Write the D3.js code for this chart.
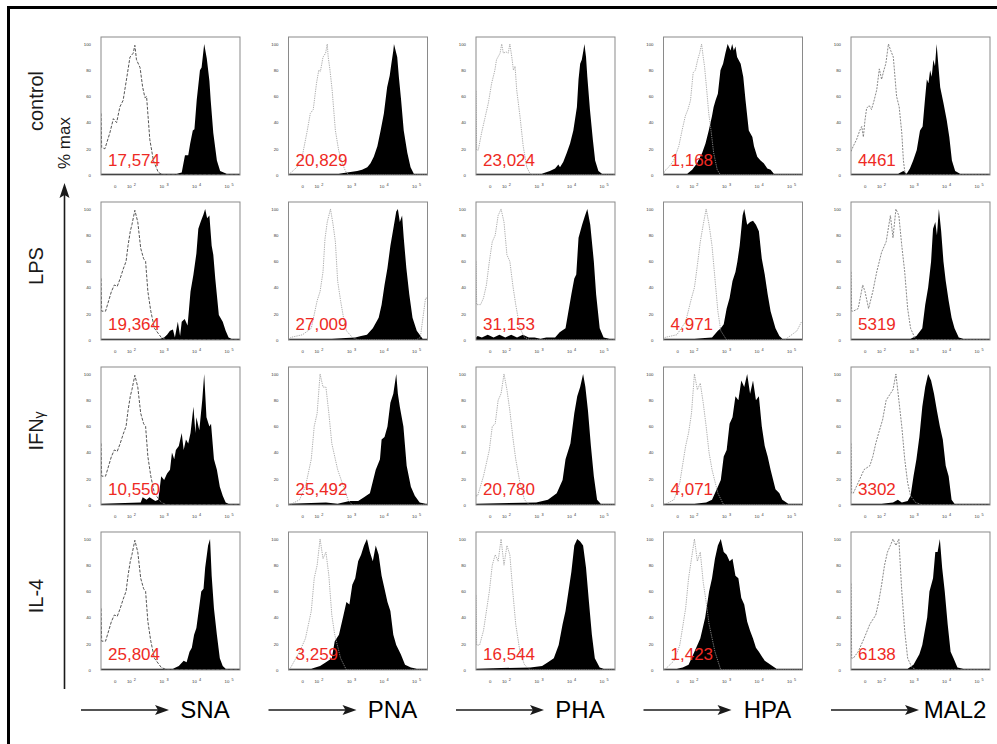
<!DOCTYPE html>
<html>
<head>
<meta charset="utf-8">
<script src="https://cdn.jsdelivr.net/npm/d3@7/dist/d3.min.js"></script>
<style>
  body { margin: 0; background: #fff; }
  svg { display: block; font-family: "Liberation Sans", Arial, Helvetica, sans-serif; }
</style>
</head>
<body>
<div id="chart"></div>
<script>
// lectin columns and treatment rows
var lectins = ["SNA", "PNA", "PHA", "HPA", "MAL2"];
var treatments = ["control", "LPS", "IFNγ", "IL-4"];

// MFI printed in each panel (rows: control, LPS, IFNγ, IL-4)
var snaMfi = ["17,574", "19,364", "10,550", "25,804"];
var pnaMfi = ["20,829", "27,009", "25,492", "3,259"];
var phaMfi = ["23,024", "31,153", "20,780", "16,544"];
var hpaMfi = ["1,168", "4,971", "4,071", "1,423"];
var mal2Mfi = ["4461", "5319", "3302", "6138"];

// axis ticks (x in log10 display units, "0" sits left of 10^2)
var yTicks = [0, 20, 40, 60, 80, 100];
var xTickValues = [1.5, 2, 3, 4, 5];
var xTickLabels = ["0", "10 2", "10 3", "10 4", "10 5"];

// histograms as [log10 fluorescence, % of max], dashed = isotype, filled = lectin
var snaIso = [
  [[1.08,47],[1.10,21],[1.2,20],[1.35,32],[1.46,43],[1.56,40],[1.66,52],[1.76,57],[1.87,74],[1.97,90],[2.07,93],[2.12,99],[2.17,88],[2.28,82],[2.36,67],[2.43,59],[2.48,60],[2.51,50],[2.58,27],[2.69,11],[2.84,2],[2.99,0]],
  [[1.08,47],[1.10,22],[1.22,22],[1.40,37],[1.49,42],[1.58,41],[1.67,47],[1.76,54],[1.85,60],[1.91,72],[1.98,83],[2.03,88],[2.12,99],[2.21,90],[2.30,70],[2.39,62],[2.45,60],[2.52,37],[2.61,22],[2.72,9],[2.93,2],[3.11,0]],
  [[1.08,47],[1.10,22],[1.22,22],[1.40,37],[1.49,42],[1.58,41],[1.67,47],[1.76,54],[1.85,60],[1.91,72],[1.98,83],[2.03,88],[2.12,99],[2.21,90],[2.30,70],[2.39,62],[2.45,60],[2.52,37],[2.61,22],[2.72,9],[2.93,2],[3.11,0]],
  [[1.08,47],[1.10,22],[1.22,22],[1.40,37],[1.49,42],[1.58,41],[1.67,47],[1.76,54],[1.85,60],[1.91,72],[1.98,83],[2.03,88],[2.12,99],[2.21,90],[2.30,70],[2.39,62],[2.45,60],[2.52,37],[2.61,22],[2.72,9],[2.93,2],[3.11,0]]
];
var snaStain = [
  [[1.08,1],[3.41,1],[3.56,2],[3.66,15],[3.76,15],[3.82,24],[3.90,34],[3.95,35],[4.02,57],[4.12,80],[4.17,82],[4.25,100],[4.33,89],[4.41,72],[4.45,57],[4.53,32],[4.64,11],[4.74,3],[4.94,1],[5.35,1]],
  [[1.08,1],[2.9,1],[3.02,2],[3.11,4],[3.20,7],[3.29,8],[3.35,2],[3.44,14],[3.51,3],[3.56,14],[3.65,16],[3.74,11],[3.83,37],[3.92,50],[4.01,66],[4.07,85],[4.14,90],[4.23,96],[4.28,100],[4.34,93],[4.41,95],[4.48,72],[4.53,65],[4.59,47],[4.70,19],[4.82,14],[4.91,7],[5.00,2],[5.09,1],[5.35,1]],
  [[1.08,1],[2.30,2],[2.36,6],[2.48,4],[2.57,6],[2.75,3],[2.84,4],[2.93,22],[3.02,19],[3.11,24],[3.20,27],[3.26,40],[3.33,35],[3.38,42],[3.47,45],[3.56,55],[3.62,42],[3.69,50],[3.76,47],[3.83,55],[3.92,75],[3.98,55],[4.01,67],[4.10,57],[4.19,80],[4.25,100],[4.32,67],[4.41,60],[4.46,62],[4.55,35],[4.64,27],[4.73,14],[4.82,7],[4.91,2],[5.00,1],[5.35,1]],
  [[1.08,1],[3.29,1],[3.47,3],[3.62,7],[3.71,6],[3.80,14],[3.87,17],[3.94,27],[4.01,32],[4.08,45],[4.16,60],[4.23,62],[4.28,78],[4.37,95],[4.43,100],[4.48,72],[4.55,47],[4.64,27],[4.73,9],[4.82,3],[4.91,1],[5.35,1]]
];
var pnaIso = [
  [[1.08,0],[1.12,1],[1.34,6],[1.50,14],[1.65,33],[1.75,47],[1.84,50],[1.94,70],[2.01,80],[2.06,79],[2.14,90],[2.22,93],[2.27,100],[2.30,90],[2.35,81],[2.42,65],[2.52,34],[2.62,19],[2.73,9],[2.83,3],[2.93,0]],
  [[1.08,0],[1.15,2],[1.51,4],[1.78,9],[1.96,30],[2.05,37],[2.14,52],[2.20,77],[2.27,90],[2.37,100],[2.45,88],[2.52,75],[2.59,45],[2.68,30],[2.77,17],[2.86,7],[3.04,2],[3.22,0],[5.0,0],[5.13,2],[5.29,32],[5.35,32]],
  [[1.08,0],[1.15,0.5],[1.42,4],[1.60,14],[1.78,35],[1.87,60],[1.96,70],[2.05,100],[2.14,90],[2.23,90],[2.32,70],[2.41,47],[2.59,27],[2.77,14],[2.91,4],[3.04,0]],
  [[1.08,0],[1.15,2],[1.42,14],[1.60,24],[1.78,45],[1.87,70],[1.96,80],[2.05,100],[2.14,85],[2.23,90],[2.32,72],[2.41,42],[2.50,27],[2.68,9],[2.86,0]]
];
var pnaStain = [
  [[1.08,1],[2.62,1],[3.19,3],[3.34,4],[3.50,6],[3.60,9],[3.70,14],[3.81,22],[3.91,34],[4.01,47],[4.11,67],[4.19,76],[4.24,85],[4.30,95],[4.32,100],[4.37,95],[4.42,90],[4.47,75],[4.54,57],[4.62,34],[4.73,17],[4.83,6],[4.93,1],[5.35,1]],
  [[1.08,1],[2.41,1],[3.13,2],[3.31,3],[3.49,4],[3.67,9],[3.85,17],[3.94,27],[4.03,42],[4.12,55],[4.21,72],[4.30,85],[4.39,98],[4.44,100],[4.50,90],[4.57,95],[4.62,78],[4.70,55],[4.79,35],[4.89,17],[5.02,7],[5.20,1],[5.35,1]],
  [[1.08,1],[2.23,2],[2.59,1],[2.95,3],[3.22,3],[3.40,6],[3.58,9],[3.76,27],[3.89,35],[3.94,50],[4.03,52],[4.12,60],[4.21,78],[4.30,85],[4.39,100],[4.44,85],[4.50,75],[4.61,60],[4.71,30],[4.84,14],[4.96,7],[5.11,2],[5.29,1],[5.35,1]],
  [[1.08,1],[1.78,1],[2.05,3],[2.23,6],[2.41,9],[2.50,22],[2.63,27],[2.77,42],[2.86,52],[2.95,50],[3.04,65],[3.13,70],[3.22,83],[3.31,88],[3.40,95],[3.49,100],[3.58,90],[3.67,83],[3.76,95],[3.85,88],[3.94,72],[4.03,62],[4.12,52],[4.21,45],[4.30,27],[4.39,19],[4.53,12],[4.66,4],[4.84,2],[5.02,1],[5.35,1]]
];
var phaIso = [
  [[1.08,64],[1.10,19],[1.15,19],[1.25,32],[1.35,43],[1.46,55],[1.56,70],[1.66,80],[1.71,88],[1.82,93],[1.87,100],[1.92,93],[2.00,94],[2.07,93],[2.12,100],[2.18,90],[2.23,80],[2.28,83],[2.33,65],[2.43,45],[2.53,22],[2.64,6],[2.74,1],[2.84,0]],
  [[1.08,60],[1.10,27],[1.22,27],[1.31,32],[1.40,42],[1.49,60],[1.58,75],[1.67,80],[1.76,95],[1.85,100],[1.94,90],[2.03,65],[2.12,60],[2.21,42],[2.30,27],[2.43,9],[2.57,2],[2.75,0]],
  [[1.08,7],[1.13,7],[1.31,22],[1.49,42],[1.58,60],[1.67,62],[1.76,80],[1.85,85],[1.94,100],[2.03,88],[2.12,72],[2.21,52],[2.30,35],[2.43,17],[2.57,4],[2.72,0]],
  [[1.08,57],[1.10,19],[1.19,19],[1.31,30],[1.40,45],[1.49,60],[1.58,80],[1.67,88],[1.76,83],[1.85,100],[1.94,80],[2.03,95],[2.12,88],[2.21,60],[2.30,35],[2.43,14],[2.57,4],[2.75,0]]
];
var phaStain = [
  [[1.08,1],[2.84,1],[3.10,1],[3.35,3],[3.51,5],[3.61,8],[3.66,6],[3.76,10],[3.87,17],[3.97,24],[4.07,34],[4.18,52],[4.23,73],[4.28,85],[4.33,88],[4.38,95],[4.41,100],[4.46,90],[4.50,75],[4.58,50],[4.67,27],[4.74,11],[4.84,3],[4.95,1],[5.35,1]],
  [[1.08,2],[1.13,3],[1.26,2],[1.44,4],[1.62,2],[1.80,4],[1.98,2],[2.16,4],[2.34,2],[2.52,4],[2.70,2],[2.88,2],[3.06,1],[3.24,2],[3.51,2],[3.65,6],[3.83,9],[4.01,35],[4.10,47],[4.16,50],[4.23,78],[4.34,88],[4.43,95],[4.50,100],[4.59,88],[4.70,60],[4.77,35],[4.88,9],[5.00,2],[5.18,1],[5.35,1]],
  [[1.08,1],[2.93,2],[3.29,4],[3.56,9],[3.74,19],[3.83,35],[3.98,47],[4.10,70],[4.19,83],[4.28,90],[4.37,100],[4.44,90],[4.52,72],[4.61,45],[4.70,22],[4.80,4],[4.91,1],[5.35,1]],
  [[1.08,1],[2.75,2],[3.11,3],[3.29,6],[3.47,9],[3.62,19],[3.74,35],[3.83,45],[3.92,60],[4.01,75],[4.10,95],[4.19,100],[4.28,98],[4.37,95],[4.46,78],[4.55,52],[4.64,27],[4.73,9],[4.88,2],[5.00,1],[5.35,1]]
];
var hpaIso = [
  [[1.08,0],[1.11,3],[1.24,6],[1.39,11],[1.55,22],[1.65,34],[1.75,45],[1.83,50],[1.91,57],[1.99,78],[2.06,80],[2.13,88],[2.19,93],[2.25,100],[2.30,90],[2.34,83],[2.40,67],[2.47,47],[2.54,34],[2.62,17],[2.73,4],[2.83,0]],
  [[1.08,0],[1.13,2],[1.49,4],[1.76,14],[1.94,32],[2.03,40],[2.12,57],[2.21,75],[2.30,88],[2.39,100],[2.48,88],[2.57,72],[2.66,47],[2.75,22],[2.84,7],[3.02,0],[4.80,0],[4.91,2],[5.18,7],[5.32,14],[5.35,14]],
  [[1.08,0],[1.13,0.5],[1.40,4],[1.58,17],[1.76,45],[1.85,55],[1.94,70],[2.03,100],[2.12,88],[2.21,93],[2.30,78],[2.39,60],[2.48,40],[2.57,27],[2.75,9],[2.93,0]],
  [[1.08,0],[1.13,0.5],[1.40,7],[1.58,19],[1.76,47],[1.85,70],[1.94,85],[2.03,100],[2.12,83],[2.21,90],[2.30,67],[2.39,52],[2.48,35],[2.66,14],[2.84,0]]
];
var hpaStain = [
  [[1.08,1],[1.50,1],[1.81,1],[1.96,4],[2.11,9],[2.27,17],[2.37,24],[2.47,34],[2.57,45],[2.62,52],[2.68,57],[2.75,62],[2.83,80],[2.91,85],[2.98,93],[3.05,100],[3.14,95],[3.19,100],[3.24,95],[3.29,98],[3.34,90],[3.45,85],[3.53,75],[3.60,57],[3.70,34],[3.81,29],[3.86,22],[3.96,14],[4.06,11],[4.16,9],[4.27,5],[4.37,4],[4.47,1],[5.35,1]],
  [[1.08,1],[2.03,1],[2.57,2],[2.75,7],[2.84,9],[2.93,12],[3.02,24],[3.11,32],[3.20,45],[3.29,52],[3.35,60],[3.42,72],[3.51,95],[3.56,100],[3.65,88],[3.74,90],[3.83,91],[3.92,88],[4.01,83],[4.10,62],[4.19,50],[4.28,35],[4.37,22],[4.52,9],[4.64,3],[4.73,1],[5.35,1]],
  [[1.08,1],[2.03,1],[2.39,2],[2.57,4],[2.75,14],[2.84,19],[2.93,37],[3.02,42],[3.11,62],[3.20,67],[3.29,83],[3.38,80],[3.47,95],[3.56,90],[3.65,100],[3.74,85],[3.83,95],[3.92,80],[4.01,83],[4.10,60],[4.19,45],[4.28,37],[4.37,27],[4.52,12],[4.64,9],[4.73,4],[4.91,1],[5.35,1]],
  [[1.08,1],[1.49,1],[1.67,2],[1.85,4],[2.03,14],[2.21,24],[2.36,40],[2.48,60],[2.57,70],[2.66,85],[2.75,95],[2.84,100],[2.93,90],[3.02,88],[3.11,83],[3.20,85],[3.29,72],[3.38,70],[3.47,55],[3.56,50],[3.65,37],[3.74,30],[3.83,24],[3.92,17],[4.01,14],[4.19,7],[4.37,4],[4.55,1],[5.35,1]]
];
var mal2Iso = [
  [[1.08,18],[1.15,22],[1.25,27],[1.35,34],[1.41,37],[1.46,29],[1.51,42],[1.56,51],[1.64,53],[1.71,50],[1.78,56],[1.87,65],[1.95,81],[2.02,73],[2.09,80],[2.15,85],[2.23,100],[2.30,95],[2.38,90],[2.43,75],[2.48,60],[2.56,52],[2.64,32],[2.69,11],[2.74,1],[2.79,0]],
  [[1.08,52],[1.10,22],[1.15,22],[1.30,24],[1.44,42],[1.51,37],[1.62,24],[1.75,37],[1.87,52],[2.02,67],[2.16,75],[2.29,95],[2.37,78],[2.46,100],[2.55,95],[2.64,72],[2.73,52],[2.82,24],[2.91,9],[3.06,0.5],[3.2,0]],
  [[1.08,47],[1.10,9],[1.15,9],[1.30,17],[1.48,27],[1.66,30],[1.75,37],[1.84,47],[1.93,55],[2.05,65],[2.16,80],[2.29,85],[2.37,88],[2.46,100],[2.55,80],[2.64,60],[2.73,35],[2.82,17],[2.91,7],[3.06,2],[3.27,0]],
  [[1.08,66],[1.10,9],[1.15,9],[1.30,14],[1.48,24],[1.66,35],[1.84,42],[1.93,52],[2.02,65],[2.11,80],[2.20,90],[2.29,95],[2.37,100],[2.46,95],[2.55,100],[2.64,60],[2.73,30],[2.82,9],[2.95,2],[3.09,0]]
];
var mal2Stain = [
  [[1.08,1],[2.53,1],[2.69,3],[2.79,1],[2.89,5],[2.99,11],[3.10,19],[3.20,34],[3.28,37],[3.35,57],[3.41,73],[3.46,70],[3.51,80],[3.56,75],[3.61,88],[3.66,83],[3.71,100],[3.76,85],[3.82,67],[3.92,55],[4.02,42],[4.10,29],[4.18,11],[4.28,3],[4.43,1],[5.35,1]],
  [[1.08,1],[2.91,1],[3.09,3],[3.27,9],[3.36,27],[3.45,40],[3.54,60],[3.60,85],[3.67,90],[3.72,80],[3.78,100],[3.85,83],[3.92,60],[3.99,45],[4.08,30],[4.17,17],[4.26,9],[4.39,2],[4.53,1],[5.35,1]],
  [[1.08,1],[2.02,1],[2.37,2],[2.52,4],[2.64,2],[2.82,3],[2.91,7],[3.00,22],[3.09,35],[3.18,52],[3.27,75],[3.36,90],[3.45,100],[3.54,95],[3.63,85],[3.72,72],[3.81,60],[3.90,50],[3.99,30],[4.08,22],[4.17,4],[4.26,1],[5.35,1]],
  [[1.08,1],[2.37,1],[2.82,1],[3.00,4],[3.18,12],[3.27,19],[3.42,40],[3.49,60],[3.60,70],[3.67,90],[3.74,90],[3.81,100],[3.88,78],[3.96,60],[4.05,35],[4.14,14],[4.23,9],[4.35,2],[4.53,1],[5.35,1]]
];

var isoSets = [snaIso, pnaIso, phaIso, hpaIso, mal2Iso];
var stainSets = [snaStain, pnaStain, phaStain, hpaStain, mal2Stain];
var mfiSets = [snaMfi, pnaMfi, phaMfi, hpaMfi, mal2Mfi];

// isotype dash look per column
var isoStyle = [
  {stroke: "#555", width: 1, dash: "3,1.5"},
  {stroke: "#999", width: 0.8, dash: "1.3,1"},
  {stroke: "#999", width: 0.8, dash: "1.3,1"},
  {stroke: "#999", width: 0.8, dash: "1.3,1"},
  {stroke: "#7a7a7a", width: 0.9, dash: "2,1.2"}
];

var width = 997, height = 744;
var red = "#ee2a24";
var ink = "#1a1a1a";

var svg = d3.select("#chart").append("svg")
    .attr("width", width)
    .attr("height", height);

// outer frame (runs off the right and bottom edges)
svg.append("rect")
    .attr("x", 8.5).attr("y", 7.5)
    .attr("width", 1100).attr("height", 1000)
    .attr("fill", "none")
    .attr("stroke", "#000")
    .attr("stroke-width", 3);

var col = d3.scaleBand().domain(lectins).range([101, 990]).paddingInner(0.2587);
var row = d3.scaleBand().domain(treatments).range([37, 670]).paddingInner(0.1636);
var pw = col.bandwidth(), ph = row.bandwidth();

var x = d3.scaleLinear().domain([1.08, 5.35]).range([0, pw]);
var y = d3.scaleLinear().domain([0, 100]).range([ph, 7]);

var area = d3.area()
    .x(function(d) { return x(d[0]); })
    .y0(y(0))
    .y1(function(d) { return y(d[1]); });

var line = d3.line()
    .x(function(d) { return x(d[0]); })
    .y(function(d) { return y(d[1]); });

var defs = svg.append("defs");
defs.append("clipPath").attr("id", "panel-clip")
  .append("rect").attr("width", pw).attr("height", ph);

lectins.forEach(function(lectin, ci) {
  treatments.forEach(function(treat, ri) {
    var g = svg.append("g")
        .attr("transform", "translate(" + col(lectin) + "," + row(treat) + ")");

    var iso = isoSets[ci][ri].slice();
    var last = iso[iso.length - 1];
    if (last[0] < x.domain()[1]) iso.push([x.domain()[1], 0]);

    var plot = g.append("g").attr("clip-path", "url(#panel-clip)");
    plot.append("path")
        .datum(stainSets[ci][ri])
        .attr("d", area)
        .attr("fill", "#000");
    plot.append("path")
        .datum(iso)
        .attr("d", line)
        .attr("fill", "none")
        .attr("stroke", isoStyle[ci].stroke)
        .attr("stroke-width", isoStyle[ci].width)
        .attr("stroke-dasharray", isoStyle[ci].dash);

    g.append("rect")
        .attr("x", 0).attr("y", 0)
        .attr("width", pw).attr("height", ph)
        .attr("fill", "none")
        .attr("stroke", "#8a8a8a")
        .attr("stroke-width", 1);

    // % max ticks
    var ya = g.append("g")
        .call(d3.axisLeft(y).tickValues(yTicks).tickSize(0).tickPadding(10));
    ya.select(".domain").remove();
    ya.attr("font-family", null).attr("font-size", 4.3);
    ya.selectAll("text").attr("fill", "#333");

    // logicle ticks
    var xa = g.append("g")
        .attr("transform", "translate(0," + ph + ")")
        .call(d3.axisBottom(x).tickValues(xTickValues).tickSize(0).tickPadding(10).tickFormat(function() { return ""; }));
    xa.select(".domain").remove();
    xa.attr("font-family", null).attr("font-size", 4.3);
    xa.selectAll(".tick text").each(function(d, i) {
      var parts = xTickLabels[i].split(" ");
      var t = d3.select(this).attr("fill", "#333");
      t.append("tspan").text(parts[0]);
      if (parts[1]) {
        t.append("tspan").attr("dx", 2.2).attr("dy", -1.6).attr("font-size", 3.8).text(parts[1]);
      }
    });

    g.append("text")
        .attr("x", 7)
        .attr("y", ph - 9.5)
        .attr("font-size", 17)
        .attr("fill", red)
        .text(mfiSets[ci][ri]);
  });
});

// row labels
treatments.forEach(function(treat) {
  var cy = row(treat) + ph / 2 - 5;
  var t = svg.append("text")
      .attr("transform", "translate(43," + cy + ") rotate(-90)")
      .attr("text-anchor", "middle")
      .attr("font-size", 20)
      .attr("fill", ink);
  if (treat === "IFNγ") {
    t.append("tspan").text("IFN");
    t.append("tspan").attr("font-size", 14).attr("dy", 1).text("γ");
  } else {
    t.text(treat);
  }
});

// y-axis title and arrow
svg.append("text")
    .attr("transform", "translate(70,143) rotate(-90)")
    .attr("text-anchor", "middle")
    .attr("font-size", 17)
    .attr("fill", ink)
    .text("% max");

svg.append("line")
    .attr("x1", 64.5).attr("x2", 64.5)
    .attr("y1", 689).attr("y2", 194)
    .attr("stroke", ink).attr("stroke-width", 1.6);
svg.append("path")
    .attr("d", "M64.5,183 L69.5,198 L64.5,195 L59.5,198 Z")
    .attr("fill", ink);

// lectin labels with arrows
lectins.forEach(function(lectin) {
  var L = col(lectin);
  svg.append("line")
      .attr("x1", L - 20).attr("x2", L + 60)
      .attr("y1", 710).attr("y2", 710)
      .attr("stroke", ink).attr("stroke-width", 1.6);
  svg.append("path")
      .attr("d", "M" + (L + 68) + ",710 L" + (L + 54) + ",705 L" + (L + 57) + ",710 L" + (L + 54) + ",715 Z")
      .attr("fill", ink);
  svg.append("text")
      .attr("x", L + 104)
      .attr("y", 718)
      .attr("text-anchor", "middle")
      .attr("font-size", 24)
      .attr("fill", "#000")
      .text(lectin);
});
</script>
</body>
</html>
